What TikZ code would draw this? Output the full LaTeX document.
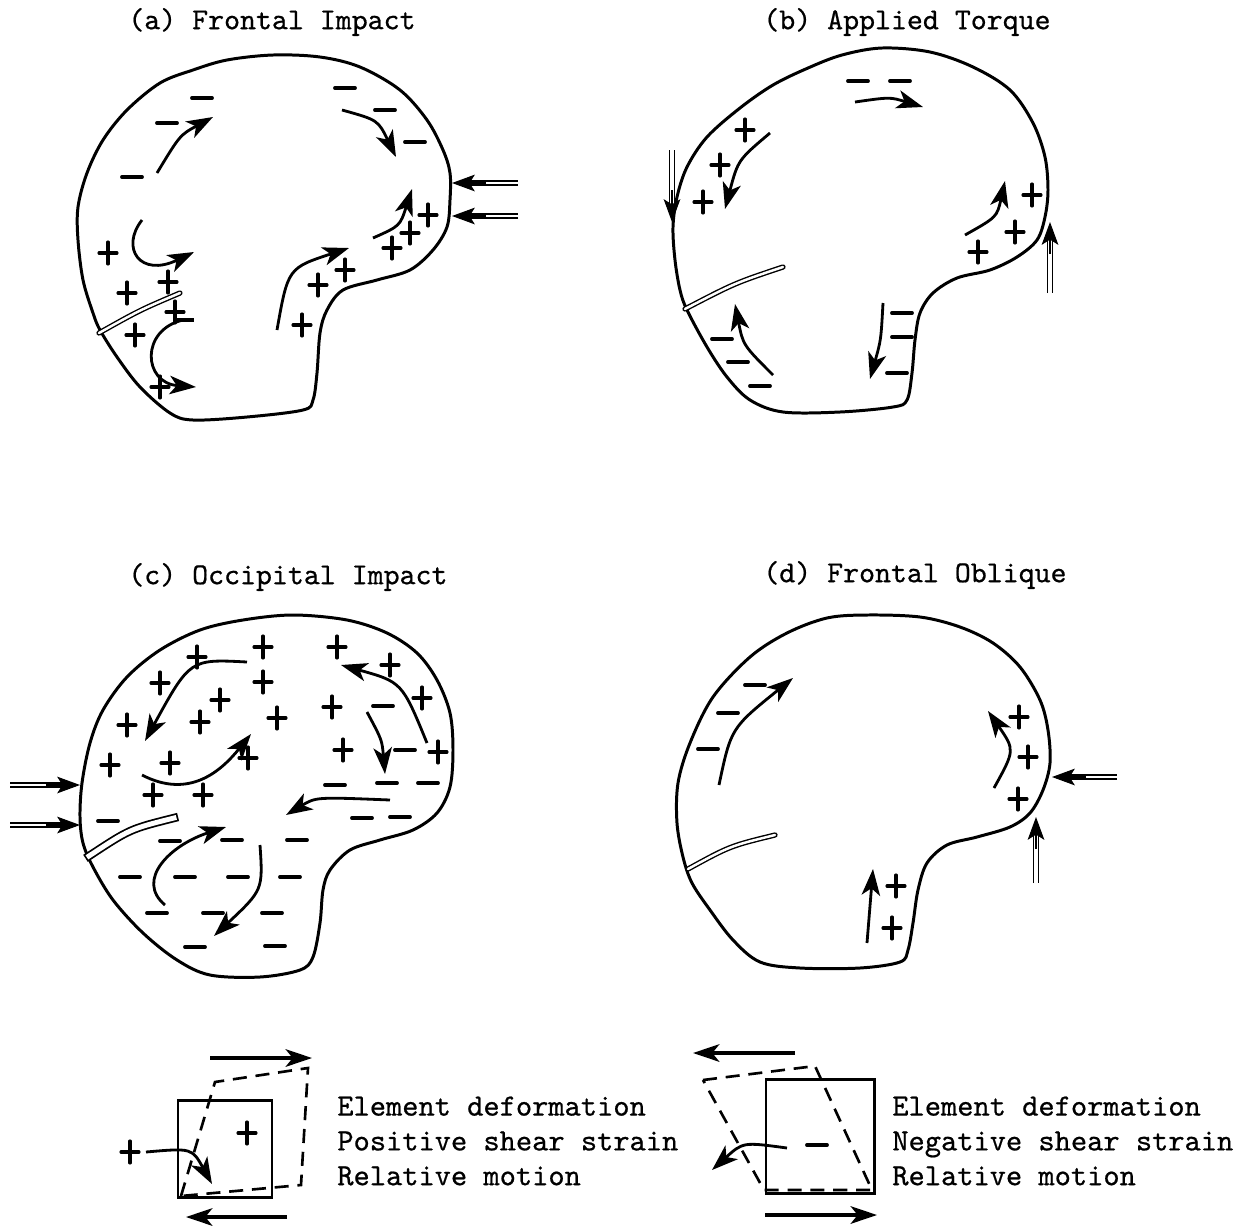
\documentclass[tikz,border=0pt]{standalone}
\usepackage{fontspec}
\setmonofont{lmmono10-regular.otf}[FakeBold=0.6]
\usetikzlibrary{arrows.meta,calc}

\tikzset{
  outline/.style={line width=1.7pt, line join=round},
  crack/.style={double, double distance=1.4pt, line width=0.8pt, line cap=round},
  wideck/.style={double, double distance=2.8pt, line width=1pt, line cap=rect},
  flow/.style={line width=1.6pt, -{Stealth[length=15pt,width=10.5pt,inset=4pt]}},
  signstroke/.style={line width=1.75pt, line cap=round},
  barstroke/.style={line width=2.2pt, line cap=round},
  forcethick/.style={double, double distance=0.7pt, line width=1.45pt},
  forcethin/.style={double, double distance=2.2pt, line width=0.8pt},
  forcehead/.style={line width=0.6pt, -{Stealth[length=13pt,width=9.5pt,inset=3pt]}},
  title/.style={anchor=west, inner sep=0pt, font=\ttfamily\fontsize{17.3}{20}\selectfont},
  legendtext/.style={anchor=west, inner sep=0pt, align=left,
    font=\ttfamily\fontsize{17.6}{19.8}\selectfont},
  elemsq/.style={line width=1.7pt},
  deformed/.style={line width=1.5pt, dash pattern=on 8pt off 5pt},
  motion/.style={line width=2pt, -{Stealth[length=15pt,width=10pt,inset=4pt]}},
  pics/pos/.style={code={\draw[signstroke] (-9,0)--(9,0) (0,-11)--(0,11);}},
  pics/neg/.style={code={\draw[barstroke] (-10,0)--(10,0);}},
}

\begin{document}
\begin{tikzpicture}[x=0.02cm, y=-0.02cm]
\useasboundingbox (0,0) rectangle (1245,1225);
\fill[white] (0,0) rectangle (1245,1225);

% ---------------- titles ----------------
\node[title] (ta) at (128,22) {(a) Frontal Impact};
\node[title] (tb) at (763,22) {(b) Applied Torque};
\node[title] (tc) at (128,577) {(c) Occipital Impact};
\node[title] (td) at (763,575) {(d) Frontal Oblique};

% ---------------- (a) frontal impact ----------------
\draw[outline] plot[smooth cycle, tension=0.55] coordinates {
 (170,413) (193,420) (247,417) (303,410) (313,400) (317,373) (320,333)
 (327,310) (343,290) (377,280) (410,270) (433,250) (447,227) (450,200)
 (450,173) (443,150) (427,120) (400,90) (360,67) (320,57) (273,55)
 (227,60) (193,70) (160,83) (127,110) (103,140) (87,173) (78,207)
 (78,240) (83,280) (93,313) (100,330) (117,357) (140,387)};
\draw[crack] (99,333) .. controls (140,310) .. (180,293);

\foreach \p in {(202,98),(167,123),(132,177),(345,88),(385,110),(415,142)}
  \pic at \p {neg};
\foreach \p in {(108,253),(127,293),(168,282),(175,312),(135,335),(160,387),
  (318,285),(345,270),(302,325),(392,248),(410,233),(428,215)}
  \pic at \p {pos};

\draw[flow] (157,173) .. controls (180,135) .. (213,117);
\draw[flow] (342,110) .. controls (378,120) .. (396,157);
\draw[flow] (142,220) .. controls (120,248) and (140,278) .. (194,252);
\draw[line width=2.4pt] (177,320) -- (194,320);
\draw[flow] (183,320) .. controls (140,330) and (143,383) .. (196,387);
\draw[flow] (277,330) .. controls (288,268) .. (349,248);
\draw[flow] (373,238) .. controls (400,226) .. (412,189);

\draw[forcethick] (518,183) -- (466,183);
\draw[forcehead] (486,183) -- (452,183);
\draw[forcethick] (518,216) -- (466,216);
\draw[forcehead] (486,216) -- (452,216);

% ---------------- (b) applied torque ----------------
\draw[outline] plot[smooth cycle, tension=0.55] coordinates {
 (750,400) (783,412) (840,412) (893,407) (907,400) (912,373) (915,340)
 (920,313) (933,293) (957,278) (990,270) (1017,257) (1037,240) (1045,217)
 (1048,190) (1045,157) (1033,123) (1010,90) (973,67) (930,52) (882,48)
 (842,55) (808,68) (773,85) (740,108) (707,137) (687,167) (677,197)
 (673,227) (675,260) (680,290) (687,310) (707,347) (727,377)};
\draw[crack] (685,309) .. controls (735,283) .. (783,267);

\foreach \p in {(858,81),(900,81),(722,339),(738,362),(760,386),
  (902,313),(902,337),(897,373)}
  \pic at \p {neg};
\foreach \p in {(745,130),(720,165),(703,202),(1032,195),(1015,232),(978,252)}
  \pic at \p {pos};

\draw[flow] (855,102) .. controls (890,97) .. (923,107);
\draw[flow] (770,133) .. controls (738,160) .. (725,209);
\draw[flow] (965,235) .. controls (997,217) .. (1005,181);
\draw[flow] (773,375) .. controls (743,345) .. (735,304);
\draw[flow] (883,303) .. controls (881,340) .. (870,379);

\draw[forcethin] (672,150) -- (672,208);
\draw[forcehead] (672,190) -- (672,222);
\draw[forcethin] (1050,293) -- (1050,236);
\draw[forcehead] (1050,254) -- (1050,222);

% ---------------- (c) occipital impact ----------------
\draw[outline] plot[smooth cycle, tension=0.55] coordinates {
 (177,960) (210,975) (260,977) (300,970) (313,957) (320,923) (323,890)
 (330,870) (350,850) (380,840) (413,830) (437,813) (450,787) (453,750)
 (450,713) (437,680) (417,653) (387,633) (347,620) (293,615) (243,620)
 (200,630) (160,650) (127,677) (103,710) (90,743) (82,783) (80,817)
 (83,843) (93,867) (113,900) (143,933)};
\draw[wideck] (89,856) .. controls (130,829) .. (174,818);

\foreach \p in {(197,657),(263,647),(337,647),(160,683),(263,682),(220,700),
  (390,665),(127,725),(200,722),(277,718),(332,707),(422,698),(110,765),
  (170,763),(248,758),(343,750),(438,752),(153,795),(203,795)}
  \pic at \p {pos};
\foreach \p in {(383,706),(405,750),(335,785),(387,783),(428,783),(362,818),
  (400,817),(108,821),(170,841),(232,840),(297,840),(130,877),(185,877),
  (238,877),(290,877),(157,913),(213,913),(272,913),(195,947),(275,946)}
  \pic at \p {neg};

\draw[flow] (247,662) .. controls (190,659) .. (145,741);
\draw[flow] (142,775) .. controls (190,800) and (222,770) .. (251,734);
\draw[flow] (427,743) .. controls (402,682) .. (341,665);
\draw[flow] (367,712) .. controls (382,740) .. (385,774);
\draw[flow] (390,800) .. controls (316,797) .. (286,815);
\draw[flow] (165,905) .. controls (135,880) and (170,845) .. (226,827);
\draw[flow] (260,845) .. controls (263,890) .. (214,936);

\draw[forcethick] (10,785) -- (64,785);
\draw[forcehead] (46,785) -- (80,785);
\draw[forcethick] (10,825) -- (64,825);
\draw[forcehead] (46,825) -- (80,825);

% ---------------- (d) frontal oblique ----------------
\draw[outline] plot[smooth cycle, tension=0.55] coordinates {
 (760,962) (800,968) (860,968) (900,962) (908,950) (913,923) (918,890)
 (927,863) (947,845) (977,837) (1010,827) (1030,813) (1043,790) (1050,763)
 (1048,730) (1040,700) (1020,667) (993,643) (960,627) (920,617) (867,615)
 (827,618) (787,633) (750,657) (713,697) (690,743) (678,783) (677,823)
 (683,857) (692,883) (710,910) (733,940)};
\draw[crack] (688,869) .. controls (730,846) .. (775,835);

\foreach \p in {(755,685),(728,713),(708,749)}
  \pic at \p {neg};
\foreach \p in {(1019,717),(1028,757),(1018,799),(896,886),(892,928)}
  \pic at \p {pos};

\draw[flow] (719,785) .. controls (731,728) .. (793,678);
\draw[flow] (994,788) .. controls (1015,750) .. (988,711);
\draw[flow] (867,943) -- (873,869);

\draw[forcethick] (1117,777) -- (1066,777);
\draw[forcehead] (1086,777) -- (1052,777);
\draw[forcethin] (1036,883) -- (1036,831);
\draw[forcehead] (1036,849) -- (1036,817);

% ---------------- legend: positive shear ----------------
\draw[deformed] (181,1196) -- (215,1082) -- (308,1068) -- (301,1185) -- cycle;
\draw[elemsq] (178,1100) rectangle (272,1197);
\draw[motion] (210,1058) -- (312,1058);
\draw[motion] (287,1217) -- (186,1217);
\pic at (247,1133) {pos};
\pic at (130,1152) {pos};
\draw[flow] (146,1152) .. controls (192,1148) .. (212,1184);
\node[legendtext] (lp) at (337,1141)
  {Element deformation\\Positive shear strain\\Relative motion};

% ---------------- legend: negative shear ----------------
\draw[deformed] (703,1080) -- (815,1066) -- (872,1190) -- (764,1190) -- cycle;
\draw[elemsq] (766,1079) rectangle (874,1193);
\draw[motion] (795,1053) -- (693,1053);
\draw[motion] (765,1215) -- (877,1215);
\pic at (817,1145) {neg};
\draw[flow] (787,1148) .. controls (743,1142) .. (712,1170);
\node[legendtext] (ln) at (892,1141)
  {Element deformation\\Negative shear strain\\Relative motion};
\end{tikzpicture}
\end{document}
